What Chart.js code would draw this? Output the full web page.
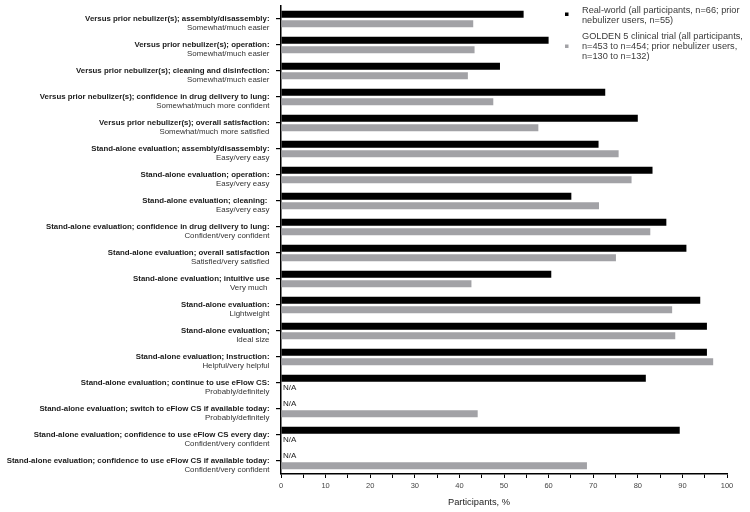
<!DOCTYPE html>
<html>
<head>
<meta charset="utf-8">
<script src="https://cdn.jsdelivr.net/npm/chart.js@4/dist/chart.umd.min.js"></script>
<style>
html,body{margin:0;padding:0;background:#fff;}
#wrap{width:750px;height:512px;position:relative;}
</style>
</head>
<body>
<div id="wrap"><canvas id="c" width="750" height="512"></canvas></div>
<script>
const labelsMain = [
  "Versus prior nebulizer(s); assembly/disassembly:",
  "Versus prior nebulizer(s); operation:",
  "Versus prior nebulizer(s); cleaning and disinfection:",
  "Versus prior nebulizer(s); confidence in drug delivery to lung:",
  "Versus prior nebulizer(s); overall satisfaction:",
  "Stand-alone evaluation; assembly/disassembly:",
  "Stand-alone evaluation; operation:",
  "Stand-alone evaluation; cleaning: ",
  "Stand-alone evaluation; confidence in drug delivery to lung:",
  "Stand-alone evaluation; overall satisfaction",
  "Stand-alone evaluation; intuitive use",
  "Stand-alone evaluation:",
  "Stand-alone evaluation;",
  "Stand-alone evaluation; Instruction:",
  "Stand-alone evaluation; continue to use eFlow CS:",
  "Stand-alone evaluation; switch to eFlow CS if available today:",
  "Stand-alone evaluation; confidence to use eFlow CS every day:",
  "Stand-alone evaluation; confidence to use eFlow CS if available today:"
];
const labelsSub = [
  "Somewhat/much easier",
  "Somewhat/much easier",
  "Somewhat/much easier",
  "Somewhat/much more confident",
  "Somewhat/much more satisfied",
  "Easy/very easy",
  "Easy/very easy",
  "Easy/very easy",
  "Confident/very confident",
  "Satisfied/very satisfied",
  "Very much ",
  "Lightweight",
  "Ideal size",
  "Helpful/very helpful",
  "Probably/definitely",
  "Probably/definitely",
  "Confident/very confident",
  "Confident/very confident"
];
const realWorld = [54.4, 60.0, 49.1, 72.7, 80.0, 71.2, 83.3, 65.1, 86.4, 90.9, 60.6, 94.0, 95.5, 95.5, 81.8, null, 89.4, null];
const golden5   = [43.1, 43.4, 41.9, 47.6, 57.7, 75.7, 78.6, 71.3, 82.8, 75.1, 42.7, 87.7, 88.4, 96.9, null, 44.1, null, 68.6];
const seriesNames = [
  ["Real-world (all participants, n=66; prior", "nebulizer users, n=55)"],
  ["GOLDEN 5 clinical trial (all participants,", "n=453 to n=454; prior nebulizer users,", "n=130 to n=132)"]
];
const seriesColors = ["#000000", "#a2a2a6"];
const xTitle = "Participants, %";
const naText = "N/A";

const FONT = "'Liberation Sans', Arial, sans-serif";

const customDraw = {
  id: 'customDraw',
  afterDraw(chart) {
    const ctx = chart.ctx;
    const y = chart.scales.y;
    const x = chart.scales.x;
    ctx.save();
    // category labels
    ctx.textAlign = 'right';
    ctx.textBaseline = 'middle';
    for (let i = 0; i < labelsMain.length; i++) {
      const py = y.getPixelForValue(i);
      ctx.font = "bold 7.85px " + FONT;
      ctx.fillStyle = '#1a1a1a';
      ctx.fillText(labelsMain[i], 269.5, py - 0.5);
      ctx.font = "7.9px " + FONT;
      ctx.fillStyle = '#333';
      ctx.fillText(labelsSub[i], 269.5, py + 8.5);
    }
    // N/A labels
    ctx.textAlign = 'left';
    ctx.font = "8px " + FONT;
    ctx.fillStyle = '#1a1a1a';
    chart.data.datasets.forEach((ds, d) => {
      const meta = chart.getDatasetMeta(d);
      ds.data.forEach((v, i) => {
        if (v === null) {
          const el = meta.data[i];
          ctx.fillText(naText, x.getPixelForValue(0) + 2, el.y);
        }
      });
    });
    // legend
    const lx = 582, ly = [10.5, 36];
    seriesNames.forEach((lines, d) => {
      ctx.fillStyle = seriesColors[d];
      const my = d === 0 ? ly[d] + 3.5 : ly[d] + 10;
      ctx.fillRect(565, my - 1.5, 3.5, 3.5);
      ctx.fillStyle = '#3a3a3a';
      ctx.font = "9.2px " + FONT;
      lines.forEach((t, k) => ctx.fillText(t, lx, ly[d] + k * 10));
    });
    // axis title
    ctx.textAlign = 'center';
    ctx.fillStyle = '#222';
    ctx.font = "9.3px " + FONT;
    ctx.fillText(xTitle, 479, 502);
    ctx.restore();
  }
};

new Chart(document.getElementById('c'), {
  type: 'bar',
  data: {
    labels: labelsMain,
    datasets: [
      { label: seriesNames[0].join(' '), data: realWorld, backgroundColor: seriesColors[0],
        categoryPercentage: 0.73, barPercentage: 0.76 },
      { label: seriesNames[1].join(' '), data: golden5, backgroundColor: seriesColors[1],
        categoryPercentage: 0.73, barPercentage: 0.76 }
    ]
  },
  options: {
    indexAxis: 'y',
    responsive: false,
    animation: false,
    layout: { padding: { top: 6, right: 23, bottom: 0, left: 0 } },
    plugins: { legend: { display: false }, tooltip: { enabled: false } },
    scales: {
      x: {
        min: 0, max: 100,
        grid: { drawOnChartArea: false, drawTicks: true, tickLength: 4, color: '#000', lineWidth: 1 },
        border: { color: '#000', width: 1.5 },
        ticks: {
          stepSize: 5, autoSkip: false, maxRotation: 0, padding: 3,
          color: '#444', font: { family: FONT, size: 7.5 },
          callback: v => (v % 10 === 0 ? String(v) : '')
        },
        afterFit(s) { s.height = 38; }
      },
      y: {
        grid: { drawOnChartArea: false, drawTicks: true, tickLength: 5, offset: false, color: '#000', lineWidth: 1.2 },
        border: { color: '#000', width: 1.5 },
        ticks: { display: false },
        afterFit(s) { s.width = 281; }
      }
    }
  },
  plugins: [customDraw]
});
</script>
</body>
</html>
